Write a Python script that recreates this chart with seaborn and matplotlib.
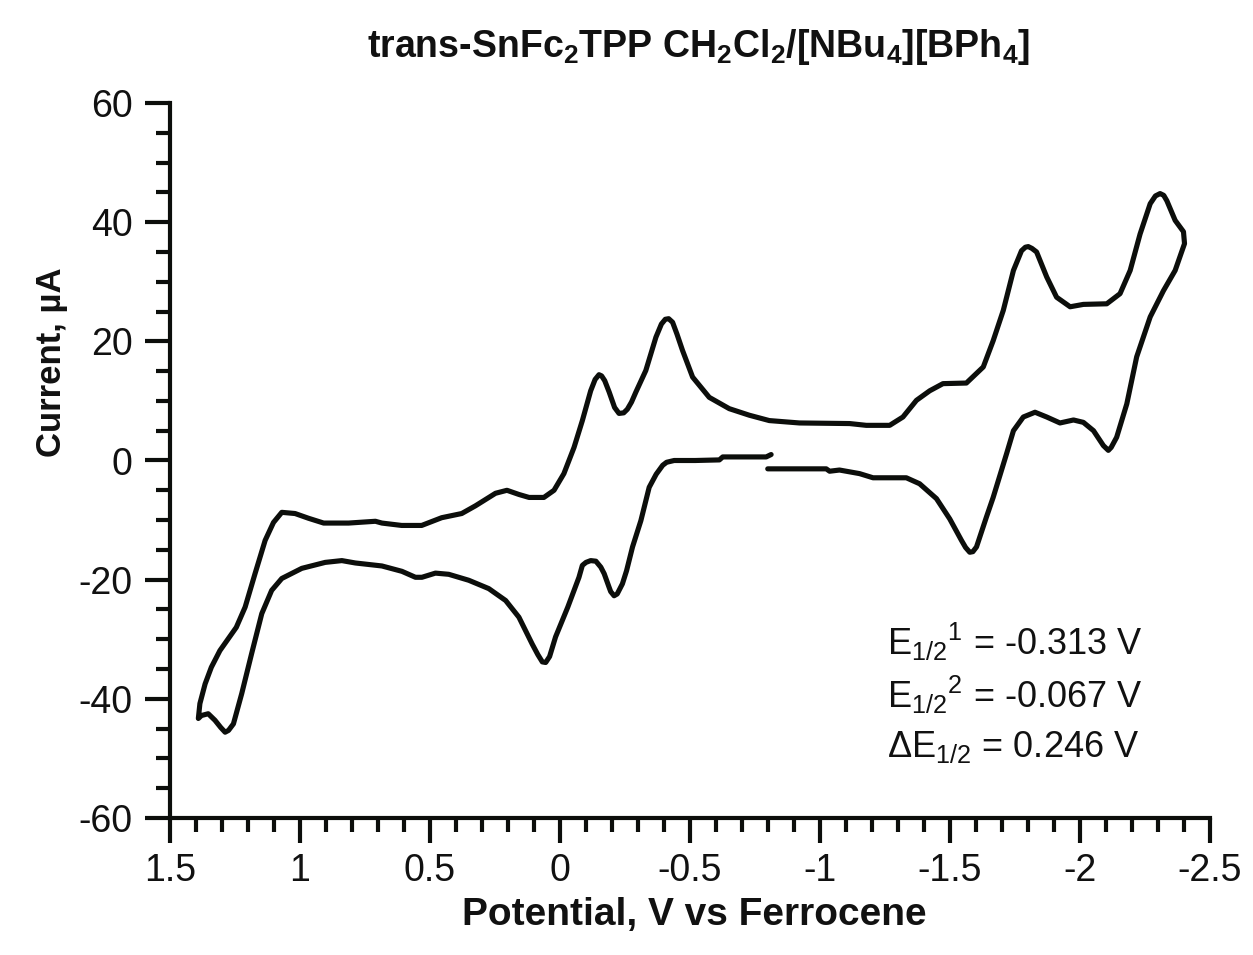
import numpy as np
import pandas as pd
import matplotlib
matplotlib.use("Agg")
import matplotlib.pyplot as plt
import seaborn as sns
from matplotlib.ticker import MultipleLocator, FixedLocator

# ---------------- data ----------------
# segment 1: anodic sweep from -0.8 V towards +1.39 V (lower-left branch)
pot_seg1 = [-0.812, -0.793, -0.70, -0.626, -0.613, -0.52, -0.439, -0.410, -0.395, -0.370, -0.343,
            -0.311, -0.279, -0.272, -0.256, -0.240, -0.220, -0.208, -0.195, -0.189, -0.170, -0.157,
            -0.138, -0.118, -0.100, -0.086,
            -0.073, -0.03, 0.017, 0.040, 0.055, 0.068, 0.085, 0.107, 0.158, 0.209, 0.274, 0.351,
            0.428, 0.479, 0.531, 0.556, 0.608, 0.685, 0.787, 0.839, 0.903, 0.993,
            1.070, 1.109, 1.147, 1.186, 1.224, 1.256, 1.275, 1.288, 1.305, 1.327, 1.353, 1.379, 1.391]
cur_seg1 = [1.0, 0.6, 0.6, 0.6, 0.1, 0.0, 0.0, -0.3, -0.8, -2.3, -4.5,
            -10.1, -14.5, -15.7, -18.5, -20.7, -22.4, -22.7, -22.0, -21.3, -19.0, -17.9,
            -16.9, -16.8, -17.1, -17.6,
            -19.6, -24.6, -29.6, -32.9, -33.9, -33.8, -32.6, -30.8, -26.3, -23.5, -21.5, -20.1,
            -19.1, -18.9, -19.6, -19.6, -18.6, -17.7, -17.2, -16.8, -17.1, -18.1,
            -19.8, -21.8, -25.7, -32.4, -39.1, -44.2, -45.3, -45.6, -44.8, -43.6, -42.5, -42.8, -43.3]

# segment 2: cathodic sweep from +1.39 V to -2.40 V (upper branch)
pot_seg2 = [1.385, 1.365, 1.341, 1.308, 1.245, 1.211, 1.173, 1.134, 1.102, 1.070,
            1.019, 0.967, 0.909, 0.813, 0.710, 0.685, 0.609, 0.532, 0.455, 0.378,
            0.325, 0.248, 0.204, 0.158, 0.119, 0.062, 0.023, -0.015, -0.054, -0.086,
            -0.118, -0.135, -0.150, -0.160, -0.172, -0.189, -0.210, -0.227, -0.245, -0.259,
            -0.275, -0.292, -0.330, -0.369, -0.390, -0.405, -0.418, -0.433, -0.450,
            -0.471, -0.510, -0.574, -0.651, -0.728, -0.805, -0.921, -1.114,
            -1.178, -1.268, -1.319, -1.371, -1.422, -1.473, -1.563, -1.628, -1.666,
            -1.705, -1.744, -1.775, -1.790, -1.801, -1.815, -1.833, -1.872, -1.910, -1.962, -2.013,
            -2.103, -2.154, -2.193, -2.231, -2.270, -2.290, -2.308, -2.322, -2.334, -2.366, -2.398, -2.402]
cur_seg2 = [-40.8, -37.5, -34.7, -31.9, -28.0, -24.6, -19.0, -13.4, -10.4, -8.7,
            -8.9, -9.7, -10.5, -10.5, -10.2, -10.5, -10.9, -10.9, -9.6, -8.9,
            -7.6, -5.5, -5.0, -5.7, -6.2, -6.2, -5.0, -2.2, 2.2, 6.7,
            11.7, 13.6, 14.4, 14.2, 13.4, 11.5, 8.9, 7.9, 8.0, 8.6,
            9.8, 11.5, 15.1, 20.7, 22.9, 23.7, 23.8, 23.2, 21.2,
            18.5, 14.0, 10.6, 8.7, 7.6, 6.7, 6.3, 6.2,
            5.9, 5.9, 7.3, 10.1, 11.7, 12.9, 13.0, 15.7, 20.1,
            25.2, 31.9, 35.2, 35.8, 35.9, 35.6, 35.0, 30.8, 27.4, 25.8, 26.2,
            26.3, 28.0, 31.9, 38.0, 43.1, 44.4, 44.8, 44.5, 43.6, 40.3, 38.4, 36.4]

# segment 3: return sweep from -2.40 V back to -0.80 V (lower-right branch)
pot_seg3 = [-2.366, -2.321, -2.270, -2.218, -2.180, -2.141, -2.120, -2.109, -2.090, -2.052,
            -2.013, -1.975, -1.923, -1.872, -1.827, -1.782, -1.744, -1.718, -1.692,
            -1.666, -1.640, -1.602, -1.588, -1.576, -1.560, -1.544, -1.499, -1.448, -1.383, -1.332,
            -1.204, -1.152, -1.114, -1.075, -1.037, -1.024, -0.799]
cur_seg3 = [31.9, 28.5, 24.1, 17.4, 9.5, 3.9, 2.2, 1.7, 2.5, 5.0,
            6.4, 6.8, 6.3, 7.3, 8.1, 7.3, 5.0, 1.2, -2.5,
            -6.2, -9.5, -14.5, -15.3, -15.4, -14.6, -13.4, -9.8, -6.4, -3.9, -2.9,
            -2.9, -2.2, -1.9, -1.6, -1.8, -1.4, -1.4]

x_ticks = [1.5, 1, 0.5, 0, -0.5, -1, -1.5, -2, -2.5]
y_ticks = [-60, -40, -20, 0, 20, 40, 60]

title = (r"trans-SnFc$_\mathbf{2}$TPP CH$_\mathbf{2}$Cl$_\mathbf{2}$"
         r"/[NBu$_\mathbf{4}$][BPh$_\mathbf{4}$]")
x_label = "Potential, V vs Ferrocene"
y_label = "Current, µA"
notes = [r"E$_{1/2}{}^{1}$ = -0.313 V",
         r"E$_{1/2}{}^{2}$ = -0.067 V",
         r"ΔE$_{1/2}$ = 0.246 V"]

# ---------------- build table ----------------
df = pd.DataFrame({
    "potential": pot_seg1 + pot_seg2 + pot_seg3,
    "current": cur_seg1 + cur_seg2 + cur_seg3,
})

# ---------------- style ----------------
sns.set_theme(style="ticks")
plt.rcParams["font.family"] = ["Liberation Sans", "DejaVu Sans"]
plt.rcParams["mathtext.fontset"] = "custom"
plt.rcParams["mathtext.rm"] = "Liberation Sans"
plt.rcParams["mathtext.it"] = "Liberation Sans:italic"
plt.rcParams["mathtext.bf"] = "Liberation Sans:bold"
plt.rcParams["axes.unicode_minus"] = False

ink = "#0c0e0b"

fig = plt.figure(figsize=(12.53, 9.55), dpi=100)
ax = fig.add_axes([170 / 1253, 1 - 818 / 955, 1040 / 1253, 715 / 955])

sns.lineplot(data=df, x="potential", y="current", sort=False, estimator=None,
             color=ink, linewidth=3.7, ax=ax)
for ln in ax.get_lines():
    ln.set_solid_joinstyle("round")
    ln.set_solid_capstyle("round")

ax.set_xlim(1.5, -2.5)
ax.set_ylim(-60, 60)

ax.xaxis.set_major_locator(FixedLocator(x_ticks))
ax.set_xticklabels([f"{v:g}" for v in x_ticks])
ax.xaxis.set_minor_locator(MultipleLocator(0.1))
ax.yaxis.set_major_locator(FixedLocator(y_ticks))
ax.set_yticklabels([f"{v:g}" for v in y_ticks])
ax.yaxis.set_minor_locator(MultipleLocator(5))

for side in ["top", "right"]:
    ax.spines[side].set_visible(False)
for side in ["left", "bottom"]:
    ax.spines[side].set_linewidth(3.0)
    ax.spines[side].set_color(ink)

ax.tick_params(axis="both", which="major", direction="out", length=18, width=3.0,
               color=ink, labelsize=27, labelcolor="#111111")
ax.tick_params(axis="both", which="minor", direction="out", length=10, width=3.0,
               color=ink)
ax.tick_params(axis="x", which="major", pad=7)
ax.tick_params(axis="y", which="major", pad=9)

ax.set_xlabel(x_label, fontsize=28, fontweight="bold", color="#111111")
ax.set_ylabel(y_label, fontsize=25, fontweight="bold", color="#111111")
ax.xaxis.label.set_va("center")
ax.yaxis.label.set_va("center")
ax.xaxis.set_label_coords(0.504, -0.136)
ax.yaxis.set_label_coords(-0.1135, 0.638)

fig.text(699 / 1253, 1 - 47 / 955, title, ha="center", va="center",
         fontsize=27, fontweight="bold", color="#111111")

note_y = [-32.7, -41.5, -49.8]
for txt, yy in zip(notes, note_y):
    ax.text(-1.256, yy, txt, fontsize=26, ha="left", va="baseline", color="#111111")

fig.savefig("out.png", dpi=100, facecolor="white")
